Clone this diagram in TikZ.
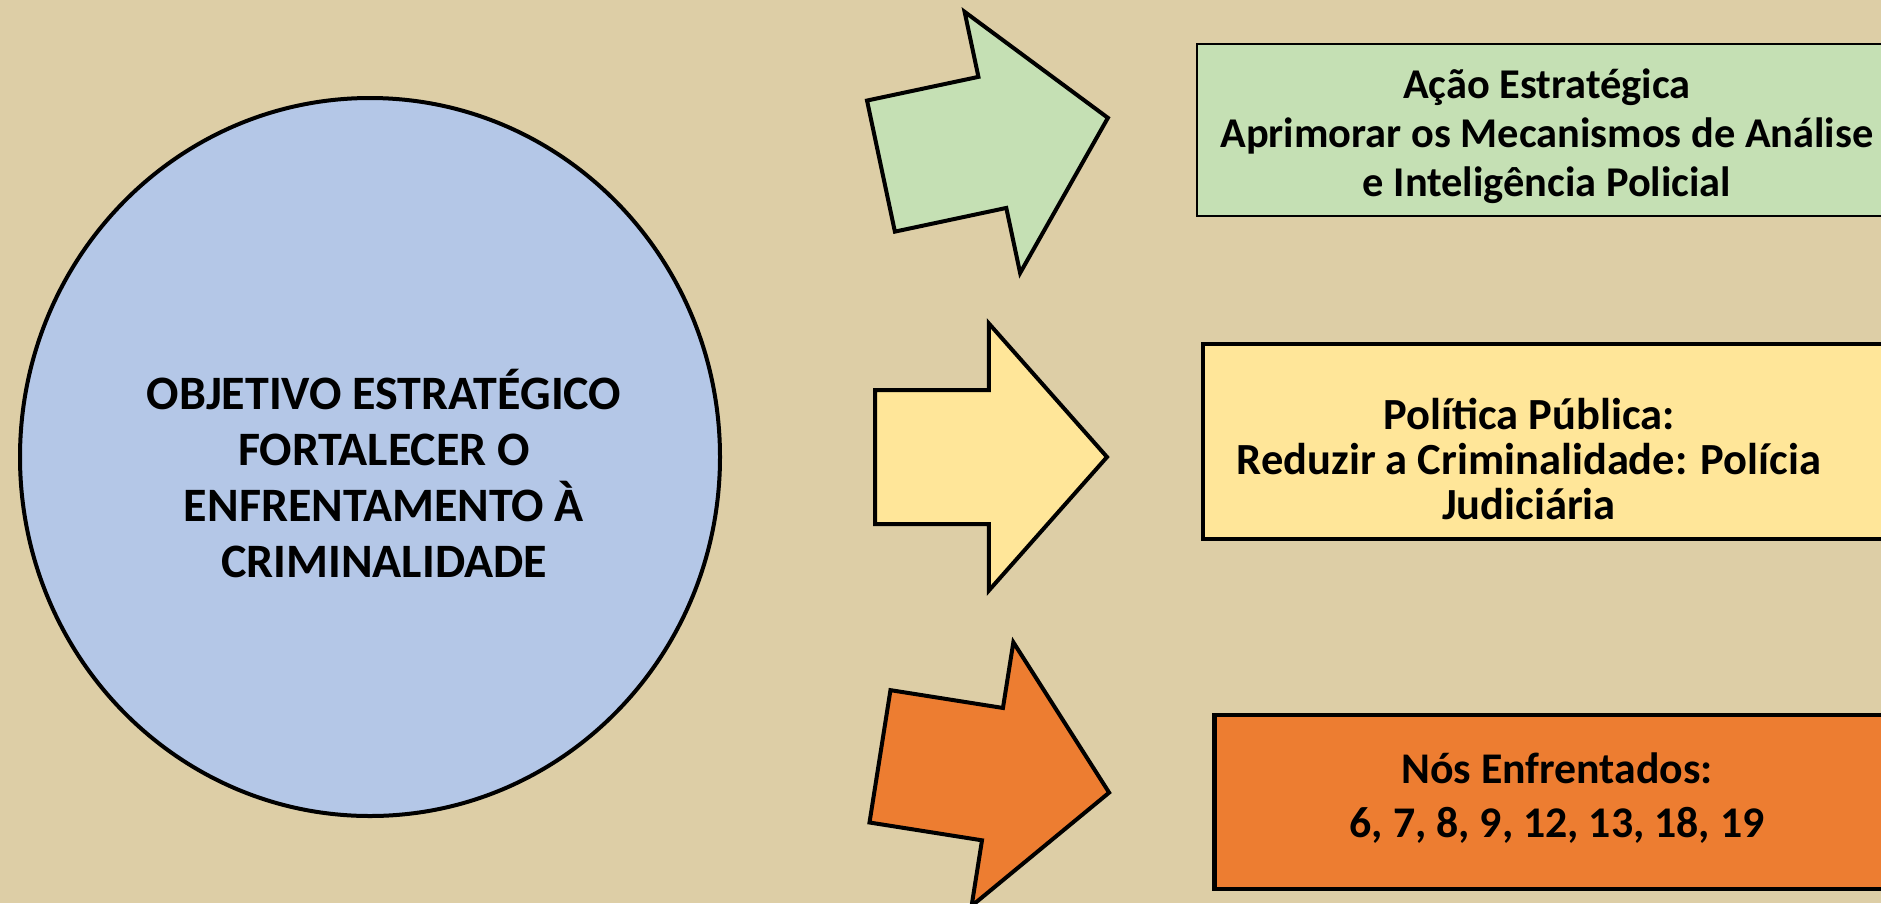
\documentclass[tikz,border=0pt]{standalone}
\usepackage{fontspec}
\setmainfont{Carlito}
\usetikzlibrary{shapes.geometric, shapes.arrows}

\definecolor{sand}{RGB}{221,206,166}
\definecolor{goalblue}{RGB}{180,199,231}
\definecolor{actiongreen}{RGB}{197,224,180}
\definecolor{policyyellow}{RGB}{255,230,153}
\definecolor{knotorange}{RGB}{237,125,49}

\begin{document}
\begin{tikzpicture}[x=1pt, y=-1pt, goal/.style={ellipse, draw=black, line width=4pt, fill=goalblue, minimum width=700pt, minimum height=718pt, inner sep=0pt}, goaltext/.style={align=center, inner sep=0pt, font=\bfseries\fontsize{48}{56}\selectfont}, blockarrow/.style={single arrow, draw=black, line width=4pt, line join=miter, minimum height=232pt, minimum width=0pt, inner xsep=0pt, inner ysep=65pt, single arrow head extend=66.5pt, single arrow tip angle=97, anchor=tail}, box/.style={rectangle, draw=black, inner sep=0pt, anchor=west}, boxtext/.style={align=center, inner sep=0pt}]

    %Canvas
    \useasboundingbox (0,0) rectangle (1881,903);
    \clip (0,0) rectangle (1881,903);
    \fill[sand] (0,0) rectangle (1881,903);

    %Nodes
    \node[goal](goal) at (370,457){};
    \node[goaltext](goal_text) at (384,473){OBJETIVO ESTRATÉGICO\\FORTALECER O\\ENFRENTAMENTO À\\CRIMINALIDADE};

    \node[blockarrow, fill=actiongreen, rotate=12](action_arrow) at (879,166.5){};
    \node[blockarrow, fill=policyyellow](policy_arrow) at (873,457){};
    \node[blockarrow, fill=knotorange, rotate=-9](knots_arrow) at (878,756){};

    \node[box, fill=actiongreen, line width=2pt, minimum width=720pt, minimum height=172pt](action) at (1196,130){};
    \node[box, fill=policyyellow, line width=4pt, minimum width=720pt, minimum height=195pt](policy) at (1201,441.5){};
    \node[box, fill=knotorange, line width=4.5pt, minimum width=720pt, minimum height=174pt](knots) at (1212,802){};

    \node[boxtext, font=\bfseries\fontsize{42.4}{49}\selectfont](action_text) at (1547,136){Ação Estratégica\\Aprimorar os Mecanismos de Análise\\e Inteligência Policial};
    \node[boxtext, font=\bfseries\fontsize{44.5}{45}\selectfont](policy_text) at (1529,459.5){Política Pública:\\Reduzir a Criminalidade: Polícia\\Judiciária};
    \node[boxtext, font=\bfseries\fontsize{43.8}{54}\selectfont](knots_text) at (1557,798.5){Nós Enfrentados:\\6, 7, 8, 9, 12, 13, 18, 19};

\end{tikzpicture}
\end{document}
